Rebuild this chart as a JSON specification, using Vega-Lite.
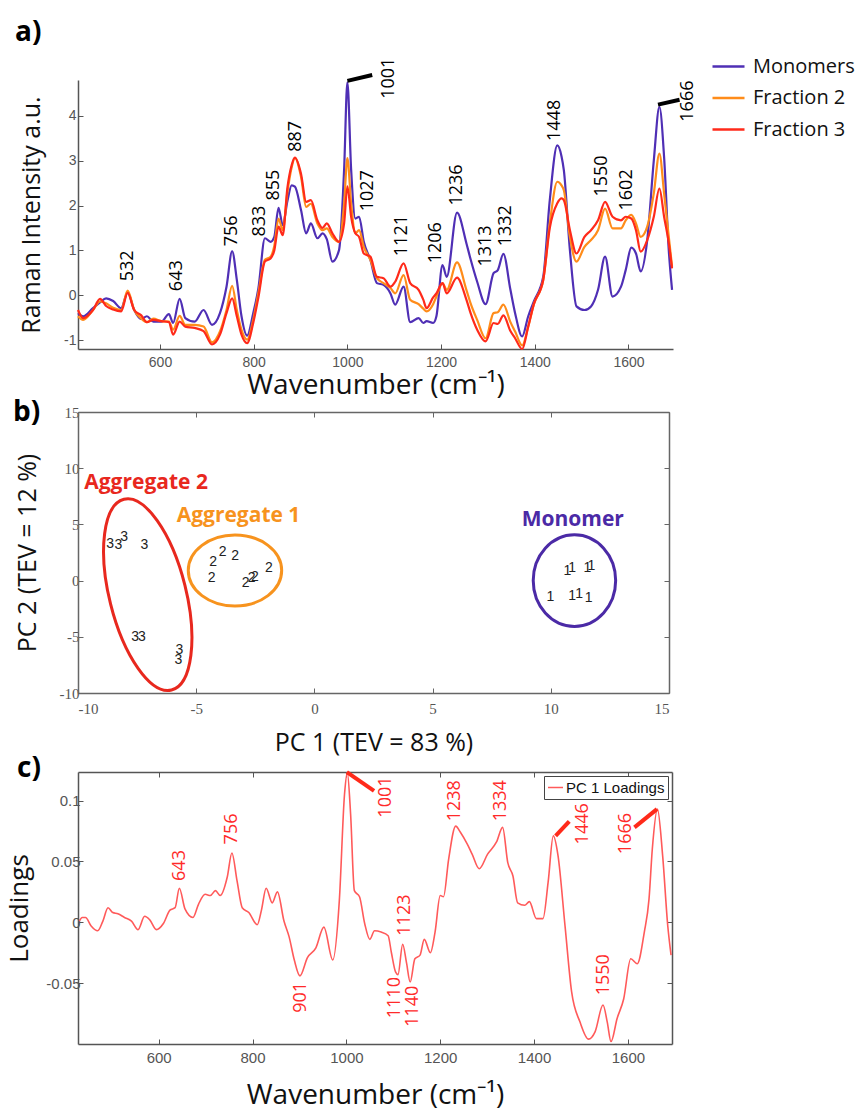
{
  "$schema": "https://vega.github.io/schema/vega-lite/v6.json",
  "background": "white",
  "padding": {"left": 6, "top": 19, "right": 0, "bottom": 0},
  "spacing": 0,
  "config": {
    "view": {"stroke": null},
    "axis": {"grid": false, "domainColor": "#555", "tickColor": "#555", "labelColor": "#555", "titleColor": "#111", "titleFontWeight": "normal", "titleFont": "Open Sans", "labelFont": "Liberation Sans"},
    "title": {"anchor": "start", "frame": "group", "fontSize": 28, "fontWeight": "bold", "font": "Open Sans", "color": "#000"}
  },
  "datasets": {
    "spectra": [
      {"w":425,"Monomers":-0.40,"Fraction 2":-0.47,"Fraction 3":-0.33},
      {"w":436,"Monomers":-0.47,"Fraction 2":-0.55,"Fraction 3":-0.51},
      {"w":457,"Monomers":-0.29,"Fraction 2":-0.33,"Fraction 3":-0.33},
      {"w":472,"Monomers":-0.16,"Fraction 2":-0.14,"Fraction 3":-0.08},
      {"w":485,"Monomers":-0.07,"Fraction 2":-0.18,"Fraction 3":-0.24},
      {"w":500,"Monomers":-0.13,"Fraction 2":-0.28,"Fraction 3":-0.32},
      {"w":517,"Monomers":-0.29,"Fraction 2":-0.33,"Fraction 3":-0.36},
      {"w":531,"Monomers":0.06,"Fraction 2":0.10,"Fraction 3":0.05},
      {"w":545,"Monomers":-0.33,"Fraction 2":-0.33,"Fraction 3":-0.33},
      {"w":560,"Monomers":-0.53,"Fraction 2":-0.52,"Fraction 3":-0.45},
      {"w":572,"Monomers":-0.47,"Fraction 2":-0.60,"Fraction 3":-0.60},
      {"w":586,"Monomers":-0.59,"Fraction 2":-0.52,"Fraction 3":-0.55},
      {"w":603,"Monomers":-0.59,"Fraction 2":-0.58,"Fraction 3":-0.58},
      {"w":619,"Monomers":-0.42,"Fraction 2":-0.59,"Fraction 3":-0.60},
      {"w":628,"Monomers":-0.62,"Fraction 2":-0.77,"Fraction 3":-0.88},
      {"w":642,"Monomers":-0.08,"Fraction 2":-0.46,"Fraction 3":-0.59},
      {"w":654,"Monomers":-0.51,"Fraction 2":-0.66,"Fraction 3":-0.70},
      {"w":674,"Monomers":-0.59,"Fraction 2":-0.66,"Fraction 3":-0.73},
      {"w":693,"Monomers":-0.33,"Fraction 2":-0.70,"Fraction 3":-0.80},
      {"w":711,"Monomers":-0.66,"Fraction 2":-1.05,"Fraction 3":-1.10},
      {"w":728,"Monomers":-0.40,"Fraction 2":-0.81,"Fraction 3":-0.88},
      {"w":742,"Monomers":0.19,"Fraction 2":-0.33,"Fraction 3":-0.40},
      {"w":754,"Monomers":0.98,"Fraction 2":0.21,"Fraction 3":-0.07},
      {"w":764,"Monomers":0.34,"Fraction 2":-0.33,"Fraction 3":-0.47},
      {"w":774,"Monomers":-0.47,"Fraction 2":-0.77,"Fraction 3":-0.88},
      {"w":786,"Monomers":-0.90,"Fraction 2":-0.99,"Fraction 3":-1.07},
      {"w":799,"Monomers":-0.40,"Fraction 2":-0.55,"Fraction 3":-0.62},
      {"w":810,"Monomers":0.15,"Fraction 2":0.05,"Fraction 3":-0.05},
      {"w":824,"Monomers":1.27,"Fraction 2":0.79,"Fraction 3":0.75},
      {"w":836,"Monomers":1.19,"Fraction 2":0.86,"Fraction 3":0.82},
      {"w":844,"Monomers":1.30,"Fraction 2":1.10,"Fraction 3":1.00},
      {"w":853,"Monomers":1.95,"Fraction 2":1.71,"Fraction 3":1.53},
      {"w":862,"Monomers":1.56,"Fraction 2":1.45,"Fraction 3":1.34},
      {"w":872,"Monomers":2.10,"Fraction 2":2.30,"Fraction 3":2.40},
      {"w":881,"Monomers":2.45,"Fraction 2":2.85,"Fraction 3":2.90},
      {"w":888,"Monomers":2.42,"Fraction 2":3.06,"Fraction 3":3.07},
      {"w":901,"Monomers":1.90,"Fraction 2":2.64,"Fraction 3":2.71},
      {"w":912,"Monomers":1.38,"Fraction 2":1.97,"Fraction 3":2.08},
      {"w":922,"Monomers":1.60,"Fraction 2":2.04,"Fraction 3":2.12},
      {"w":936,"Monomers":1.27,"Fraction 2":1.60,"Fraction 3":1.67},
      {"w":947,"Monomers":1.38,"Fraction 2":1.45,"Fraction 3":1.50},
      {"w":956,"Monomers":1.25,"Fraction 2":1.49,"Fraction 3":1.60},
      {"w":968,"Monomers":0.75,"Fraction 2":1.30,"Fraction 3":1.38},
      {"w":982,"Monomers":1.00,"Fraction 2":1.19,"Fraction 3":1.19},
      {"w":993,"Monomers":2.80,"Fraction 2":2.04,"Fraction 3":1.60},
      {"w":1000,"Monomers":4.75,"Fraction 2":3.06,"Fraction 3":2.43},
      {"w":1008,"Monomers":2.80,"Fraction 2":2.04,"Fraction 3":1.75},
      {"w":1017,"Monomers":1.71,"Fraction 2":1.38,"Fraction 3":1.38},
      {"w":1025,"Monomers":1.75,"Fraction 2":1.45,"Fraction 3":1.30},
      {"w":1035,"Monomers":1.19,"Fraction 2":1.08,"Fraction 3":0.93},
      {"w":1049,"Monomers":0.79,"Fraction 2":0.79,"Fraction 3":0.86},
      {"w":1063,"Monomers":0.27,"Fraction 2":0.38,"Fraction 3":0.41},
      {"w":1077,"Monomers":0.23,"Fraction 2":0.27,"Fraction 3":0.38},
      {"w":1092,"Monomers":0.04,"Fraction 2":0.16,"Fraction 3":0.19},
      {"w":1102,"Monomers":-0.21,"Fraction 2":0.04,"Fraction 3":0.30},
      {"w":1120,"Monomers":0.19,"Fraction 2":0.45,"Fraction 3":0.71},
      {"w":1134,"Monomers":-0.60,"Fraction 2":-0.10,"Fraction 3":0.27},
      {"w":1152,"Monomers":-0.51,"Fraction 2":-0.20,"Fraction 3":0.12},
      {"w":1162,"Monomers":-0.62,"Fraction 2":-0.30,"Fraction 3":-0.10},
      {"w":1169,"Monomers":-0.58,"Fraction 2":-0.36,"Fraction 3":-0.29},
      {"w":1183,"Monomers":-0.62,"Fraction 2":-0.20,"Fraction 3":-0.05},
      {"w":1190,"Monomers":-0.47,"Fraction 2":-0.03,"Fraction 3":0.04},
      {"w":1203,"Monomers":0.67,"Fraction 2":0.27,"Fraction 3":0.27},
      {"w":1212,"Monomers":0.41,"Fraction 2":0.12,"Fraction 3":0.04},
      {"w":1234,"Monomers":1.84,"Fraction 2":0.73,"Fraction 3":0.39},
      {"w":1254,"Monomers":1.16,"Fraction 2":0.12,"Fraction 3":-0.10},
      {"w":1263,"Monomers":0.80,"Fraction 2":-0.18,"Fraction 3":-0.40},
      {"w":1277,"Monomers":0.30,"Fraction 2":-0.55,"Fraction 3":-0.77},
      {"w":1295,"Monomers":-0.20,"Fraction 2":-0.96,"Fraction 3":-1.03},
      {"w":1312,"Monomers":0.49,"Fraction 2":-0.40,"Fraction 3":-0.62},
      {"w":1321,"Monomers":0.56,"Fraction 2":-0.38,"Fraction 3":-0.64},
      {"w":1333,"Monomers":0.92,"Fraction 2":-0.21,"Fraction 3":-0.45},
      {"w":1348,"Monomers":0.12,"Fraction 2":-0.60,"Fraction 3":-0.80},
      {"w":1358,"Monomers":-0.40,"Fraction 2":-0.81,"Fraction 3":-0.96},
      {"w":1373,"Monomers":-0.92,"Fraction 2":-1.12,"Fraction 3":-1.20},
      {"w":1386,"Monomers":-0.47,"Fraction 2":-0.70,"Fraction 3":-0.70},
      {"w":1398,"Monomers":-0.14,"Fraction 2":-0.20,"Fraction 3":-0.20},
      {"w":1418,"Monomers":0.41,"Fraction 2":0.34,"Fraction 3":0.34},
      {"w":1432,"Monomers":2.12,"Fraction 2":1.60,"Fraction 3":1.50},
      {"w":1448,"Monomers":3.34,"Fraction 2":2.53,"Fraction 3":2.05},
      {"w":1457,"Monomers":3.10,"Fraction 2":2.45,"Fraction 3":2.16},
      {"w":1462,"Monomers":2.79,"Fraction 2":2.34,"Fraction 3":2.12},
      {"w":1475,"Monomers":1.00,"Fraction 2":1.30,"Fraction 3":1.45},
      {"w":1489,"Monomers":-0.25,"Fraction 2":0.75,"Fraction 3":0.93},
      {"w":1506,"Monomers":-0.33,"Fraction 2":1.08,"Fraction 3":1.30},
      {"w":1520,"Monomers":-0.25,"Fraction 2":1.23,"Fraction 3":1.45},
      {"w":1535,"Monomers":0.12,"Fraction 2":1.45,"Fraction 3":1.67},
      {"w":1550,"Monomers":0.86,"Fraction 2":1.93,"Fraction 3":2.08},
      {"w":1566,"Monomers":-0.03,"Fraction 2":1.49,"Fraction 3":1.75},
      {"w":1584,"Monomers":0.19,"Fraction 2":1.49,"Fraction 3":1.67},
      {"w":1594,"Monomers":0.56,"Fraction 2":1.67,"Fraction 3":1.75},
      {"w":1606,"Monomers":1.06,"Fraction 2":1.79,"Fraction 3":1.71},
      {"w":1616,"Monomers":0.93,"Fraction 2":1.60,"Fraction 3":1.45},
      {"w":1626,"Monomers":0.53,"Fraction 2":1.30,"Fraction 3":0.97},
      {"w":1640,"Monomers":1.23,"Fraction 2":1.53,"Fraction 3":1.23},
      {"w":1654,"Monomers":3.00,"Fraction 2":2.27,"Fraction 3":1.75},
      {"w":1666,"Monomers":4.20,"Fraction 2":3.16,"Fraction 3":2.38},
      {"w":1676,"Monomers":3.08,"Fraction 2":2.27,"Fraction 3":1.75},
      {"w":1686,"Monomers":1.00,"Fraction 2":1.30,"Fraction 3":1.16},
      {"w":1693,"Monomers":0.12,"Fraction 2":0.64,"Fraction 3":0.60}
    ],
    "peaksA": [
      {"t":"532","w":531,"v":0.31},
      {"t":"643","w":637,"v":0.09},
      {"t":"756","w":753,"v":1.09},
      {"t":"833","w":813,"v":1.31},
      {"t":"855","w":844,"v":2.11},
      {"t":"887","w":891,"v":3.2},
      {"t":"1001","w":1088,"v":4.38},
      {"t":"1027","w":1043,"v":1.87},
      {"t":"1121","w":1117,"v":0.87},
      {"t":"1206","w":1189,"v":0.71},
      {"t":"1236","w":1233,"v":2.0},
      {"t":"1313","w":1295,"v":0.64},
      {"t":"1332","w":1339,"v":1.09},
      {"t":"1448","w":1443,"v":3.44},
      {"t":"1550","w":1543,"v":2.2},
      {"t":"1602","w":1596,"v":1.89},
      {"t":"1666","w":1727,"v":3.87}
    ],
    "leadersA": [
      {"w":1000,"v":4.78,"w2":1053,"v2":4.91},
      {"w":1663,"v":4.25,"w2":1709,"v2":4.36}
    ],
    "pca": [
      {"label":"3","x":-8.64,"y":3.23},{"label":"3","x":-8.29,"y":3.2},{"label":"3","x":-8.05,"y":3.9},{"label":"3","x":-7.19,"y":3.2},
      {"label":"3","x":-7.58,"y":-5.0},{"label":"3","x":-7.3,"y":-5.0},{"label":"3","x":-5.71,"y":-6.18},{"label":"3","x":-5.75,"y":-7.07},
      {"label":"2","x":-4.28,"y":1.69},{"label":"2","x":-3.88,"y":2.58},{"label":"2","x":-3.35,"y":2.22},{"label":"2","x":-4.35,"y":0.27},
      {"label":"2","x":-2.91,"y":-0.24},{"label":"2","x":-2.66,"y":0.2},{"label":"2","x":-2.52,"y":0.35},{"label":"2","x":-1.92,"y":1.1},
      {"label":"1","x":9.98,"y":-1.43},{"label":"1","x":10.7,"y":0.89},{"label":"1","x":10.9,"y":1.16},{"label":"1","x":11.55,"y":1.1},
      {"label":"1","x":11.72,"y":1.3},{"label":"1","x":10.9,"y":-1.34},{"label":"1","x":11.2,"y":-1.19},{"label":"1","x":11.6,"y":-1.58}
    ],
    "clusters": [
      {"group":"Aggregate 2","ex":-7.05,"ey":-1.25,"lx":-7.12,"ly":8.66},
      {"group":"Aggregate 1","ex":-3.36,"ey":0.9,"lx":-3.21,"ly":5.73},
      {"group":"Monomer","ex":11.0,"ey":0.0,"lx":10.93,"ly":5.37}
    ],
    "loadings": [
      {"w":431,"v":0.001},{"w":437,"v":0.004},{"w":444,"v":0.004},{"w":456,"v":-0.003},{"w":470,"v":-0.007},{"w":481,"v":0.001},
      {"w":492,"v":0.012},{"w":502,"v":0.008},{"w":513,"v":0.007},{"w":527,"v":0.004},{"w":542,"v":0.001},{"w":556,"v":-0.006},
      {"w":570,"v":0.005},{"w":581,"v":0.002},{"w":595,"v":-0.006},{"w":610,"v":-0.001},{"w":624,"v":0.010},{"w":635,"v":0.012},
      {"w":644,"v":0.028},{"w":656,"v":0.011},{"w":673,"v":0.004},{"w":685,"v":0.015},{"w":699,"v":0.023},{"w":710,"v":0.022},
      {"w":721,"v":0.026},{"w":731,"v":0.022},{"w":746,"v":0.037},{"w":756,"v":0.057},{"w":767,"v":0.034},{"w":778,"v":0.012},
      {"w":792,"v":0.008},{"w":810,"v":-0.002},{"w":819,"v":0.010},{"w":829,"v":0.028},{"w":842,"v":0.016},{"w":853,"v":0.025},
      {"w":867,"v":0.001},{"w":878,"v":-0.012},{"w":889,"v":-0.031},{"w":901,"v":-0.044},{"w":917,"v":-0.029},{"w":935,"v":-0.021},
      {"w":952,"v":-0.004},{"w":971,"v":-0.031},{"w":985,"v":0.018},{"w":996,"v":0.105},{"w":1002,"v":0.123},{"w":1009,"v":0.089},
      {"w":1017,"v":0.026},{"w":1028,"v":0.021},{"w":1039,"v":-0.001},{"w":1050,"v":-0.014},{"w":1060,"v":-0.007},{"w":1074,"v":-0.008},
      {"w":1089,"v":-0.011},{"w":1096,"v":-0.025},{"w":1105,"v":-0.041},{"w":1110,"v":-0.043},{"w":1120,"v":-0.018},{"w":1128,"v":-0.033},
      {"w":1136,"v":-0.049},{"w":1146,"v":-0.030},{"w":1157,"v":-0.027},{"w":1166,"v":-0.014},{"w":1179,"v":-0.025},{"w":1189,"v":-0.008},
      {"w":1200,"v":0.022},{"w":1207,"v":0.021},{"w":1218,"v":0.052},{"w":1233,"v":0.079},{"w":1243,"v":0.074},{"w":1258,"v":0.064},
      {"w":1268,"v":0.056},{"w":1283,"v":0.044},{"w":1301,"v":0.056},{"w":1320,"v":0.066},{"w":1333,"v":0.078},{"w":1344,"v":0.049},
      {"w":1355,"v":0.038},{"w":1365,"v":0.016},{"w":1380,"v":0.014},{"w":1390,"v":0.017},{"w":1405,"v":0.003},{"w":1419,"v":0.003},
      {"w":1430,"v":0.033},{"w":1441,"v":0.071},{"w":1451,"v":0.055},{"w":1466,"v":-0.003},{"w":1480,"v":-0.057},{"w":1498,"v":-0.082},
      {"w":1516,"v":-0.096},{"w":1530,"v":-0.090},{"w":1547,"v":-0.068},{"w":1556,"v":-0.082},{"w":1564,"v":-0.098},{"w":1577,"v":-0.079},
      {"w":1591,"v":-0.063},{"w":1606,"v":-0.030},{"w":1620,"v":-0.034},{"w":1635,"v":-0.008},{"w":1645,"v":0.019},{"w":1652,"v":0.060},
      {"w":1663,"v":0.093},{"w":1674,"v":0.055},{"w":1685,"v":-0.003},{"w":1692,"v":-0.027}
    ],
    "peaksC": [
      {"t":"643","w":645,"v":0.034,"side":"above"},
      {"t":"756","w":756,"v":0.064,"side":"above"},
      {"t":"1001","w":1085,"v":0.086,"side":"above"},
      {"t":"1123","w":1125,"v":-0.011,"side":"above"},
      {"t":"1238","w":1232,"v":0.083,"side":"above"},
      {"t":"1334","w":1329,"v":0.083,"side":"above"},
      {"t":"1446","w":1505,"v":0.064,"side":"above"},
      {"t":"1550","w":1550,"v":-0.06,"side":"above"},
      {"t":"1666","w":1595,"v":0.056,"side":"above"},
      {"t":"901","w":903,"v":-0.049,"side":"below"},
      {"t":"1110","w":1103,"v":-0.045,"side":"below"},
      {"t":"1140","w":1142,"v":-0.052,"side":"below"}
    ],
    "leadersC": [
      {"w":1001,"v":0.1234,"w2":1059,"v2":0.108},
      {"w":1446,"v":0.071,"w2":1475,"v2":0.083},
      {"w":1614,"v":0.078,"w2":1662,"v2":0.093}
    ]
  },
  "vconcat": [
    {
      "width": 595,
      "height": 269,
      "title": {"text": "a)", "dx": -63, "offset": 2},
      "layer": [
        {
          "data": {"name": "spectra"},
          "transform": [{"fold": ["Monomers", "Fraction 2", "Fraction 3"], "as": ["series", "value"]}],
          "mark": {"type": "line", "interpolate": "monotone", "strokeWidth": 2.2},
          "encoding": {
            "x": {"field": "w", "type": "quantitative", "scale": {"domain": [425, 1695], "nice": false, "zero": false},
              "axis": {"orient": "bottom", "values": [600, 800, 1000, 1200, 1400, 1600], "format": "d", "title": "Wavenumber (cm⁻¹)", "titleFontSize": 28, "titlePadding": 2, "labelFontSize": 14, "tickSize": -5, "labelPadding": 11, "domainWidth": 1.5}},
            "y": {"field": "value", "type": "quantitative", "scale": {"domain": [-1.2, 4.8], "nice": false, "zero": false},
              "axis": {"orient": "left", "values": [-1, 0, 1, 2, 3, 4], "labelExpr": "replace(format(datum.value, '~g'), '−', '-')", "title": "Raman Intensity a.u.", "titleFontSize": 25, "titlePadding": 19, "labelFontSize": 14, "tickSize": -5, "labelPadding": 7, "domainWidth": 1.5}},
            "color": {"field": "series", "type": "nominal", "sort": ["Monomers", "Fraction 2", "Fraction 3"],
              "scale": {"domain": ["Monomers", "Fraction 2", "Fraction 3"], "range": ["#4f2fb5", "#ff8c1a", "#ff2a1a"]},
              "legend": {"orient": "none", "legendX": 633, "legendY": -31, "title": null, "symbolType": "stroke", "symbolSize": 1024, "symbolStrokeWidth": 2.5, "labelFontSize": 20, "labelFont": "Open Sans", "labelColor": "#111", "rowPadding": 3.5, "labelOffset": 7, "padding": 0}}
          }
        },
        {
          "data": {"name": "peaksA"},
          "mark": {"type": "text", "angle": 270, "align": "left", "baseline": "middle", "fontSize": 18, "font": "Open Sans", "color": "#000"},
          "encoding": {
            "x": {"field": "w", "type": "quantitative", "scale": {"domain": [425, 1695], "nice": false, "zero": false}, "axis": null},
            "y": {"field": "v", "type": "quantitative", "scale": {"domain": [-1.2, 4.8], "nice": false, "zero": false}, "axis": null},
            "text": {"field": "t", "type": "nominal"}
          }
        },
        {
          "data": {"name": "leadersA"},
          "mark": {"type": "rule", "strokeWidth": 4, "color": "#000"},
          "encoding": {
            "x": {"field": "w", "type": "quantitative", "scale": {"domain": [425, 1695], "nice": false, "zero": false},
              "axis": {"orient": "top", "domain": false, "ticks": false, "labels": false, "title": null}},
            "y": {"field": "v", "type": "quantitative", "scale": {"domain": [-1.2, 4.8], "nice": false, "zero": false},
              "axis": {"orient": "right", "domain": false, "ticks": false, "labels": false, "title": null}},
            "x2": {"field": "w2"},
            "y2": {"field": "v2"}
          }
        }
      ]
    },
    {
      "width": 591,
      "height": 281,
      "title": {"text": "b)", "dx": -65, "offset": 0, "dy": 22},
      "layer": [
        {
          "data": {"name": "pca"},
          "mark": {"type": "text", "fontSize": 14, "font": "Liberation Sans", "color": "#222", "align": "center", "baseline": "middle"},
          "encoding": {
            "x": {"field": "x", "type": "quantitative", "scale": {"domain": [-10, 15], "nice": false, "zero": false},
              "axis": {"orient": "bottom", "values": [-10, -5, 0, 5, 10, 15], "labelExpr": "replace(format(datum.value, '~g'), '−', '-')", "title": "PC 1 (TEV = 83 %)", "titleFontSize": 25, "titlePadding": 14, "labelFont": "Liberation Serif", "labelFontSize": 15, "tickSize": -5, "labelPadding": 13, "domainColor": "#666", "tickColor": "#666", "domainWidth": 1.5}},
            "y": {"field": "y", "type": "quantitative", "scale": {"domain": [-10, 15], "nice": false, "zero": false},
              "axis": {"orient": "left", "values": [-10, -5, 0, 5, 10, 15], "labelExpr": "replace(format(datum.value, '~g'), '−', '-')", "title": "PC 2 (TEV = 12 %)", "titleFontSize": 25, "titlePadding": 19, "labelFont": "Liberation Serif", "labelFontSize": 15, "tickSize": -5, "labelPadding": 4, "domainColor": "#666", "tickColor": "#666", "domainWidth": 1.5}},
            "text": {"field": "label", "type": "nominal"}
          }
        },
        {
          "data": {"name": "clusters"},
          "transform": [{"filter": "datum.group === 'Aggregate 2'"}],
          "mark": {"type": "point", "filled": false, "opacity": 1, "strokeWidth": 3, "color": "#e8281e", "size": 38650, "angle": 346,
            "shape": "M0,-1 C0.2154,-1 0.39,-0.5523 0.39,0 C0.39,0.5523 0.2154,1 0,1 C-0.2154,1 -0.39,0.5523 -0.39,0 C-0.39,-0.5523 -0.2154,-1 0,-1 Z"},
          "encoding": {
            "x": {"field": "ex", "type": "quantitative", "scale": {"domain": [-10, 15], "nice": false, "zero": false},
              "axis": {"orient": "top", "values": [-10, -5, 0, 5, 10, 15], "labels": false, "title": null, "tickSize": -5, "domainColor": "#666", "tickColor": "#666", "domainWidth": 1.5}},
            "y": {"field": "ey", "type": "quantitative", "scale": {"domain": [-10, 15], "nice": false, "zero": false},
              "axis": {"orient": "right", "values": [-10, -5, 0, 5, 10, 15], "labels": false, "title": null, "tickSize": -5, "domainColor": "#666", "tickColor": "#666", "domainWidth": 1.5}}
          }
        },
        {
          "data": {"name": "clusters"},
          "transform": [{"filter": "datum.group === 'Aggregate 1'"}],
          "mark": {"type": "point", "filled": false, "opacity": 1, "strokeWidth": 3, "color": "#f7931e", "size": 8724,
            "shape": "M0,-0.76 C0.5523,-0.76 1,-0.4197 1,0 C1,0.4197 0.5523,0.76 0,0.76 C-0.5523,0.76 -1,0.4197 -1,0 C-1,-0.4197 -0.5523,-0.76 0,-0.76 Z"},
          "encoding": {
            "x": {"field": "ex", "type": "quantitative", "scale": {"domain": [-10, 15], "nice": false, "zero": false}, "axis": null},
            "y": {"field": "ey", "type": "quantitative", "scale": {"domain": [-10, 15], "nice": false, "zero": false}, "axis": null}
          }
        },
        {
          "data": {"name": "clusters"},
          "transform": [{"filter": "datum.group === 'Monomer'"}],
          "mark": {"type": "point", "filled": false, "opacity": 1, "strokeWidth": 3, "color": "#4b2aa6", "size": 8390,
            "shape": "M0,-1 C0.497,-1 0.9,-0.5523 0.9,0 C0.9,0.5523 0.497,1 0,1 C-0.497,1 -0.9,0.5523 -0.9,0 C-0.9,-0.5523 -0.497,-1 0,-1 Z"},
          "encoding": {
            "x": {"field": "ex", "type": "quantitative", "scale": {"domain": [-10, 15], "nice": false, "zero": false}, "axis": null},
            "y": {"field": "ey", "type": "quantitative", "scale": {"domain": [-10, 15], "nice": false, "zero": false}, "axis": null}
          }
        },
        {
          "data": {"name": "clusters"},
          "mark": {"type": "text", "fontSize": 21, "font": "Open Sans", "fontWeight": "bold", "align": "center", "baseline": "middle"},
          "encoding": {
            "x": {"field": "lx", "type": "quantitative", "scale": {"domain": [-10, 15], "nice": false, "zero": false}, "axis": null},
            "y": {"field": "ly", "type": "quantitative", "scale": {"domain": [-10, 15], "nice": false, "zero": false}, "axis": null},
            "text": {"field": "group", "type": "nominal"},
            "color": {"field": "group", "type": "nominal", "scale": {"domain": ["Aggregate 2", "Aggregate 1", "Monomer"], "range": ["#e8281e", "#f7931e", "#4b2aa6"]}, "legend": null}
          }
        }
      ]
    },
    {
      "width": 594,
      "height": 272,
      "title": {"text": "c)", "dx": -61, "offset": 0, "dy": 14},
      "layer": [
        {
          "data": {"name": "loadings"},
          "mark": {"type": "line", "interpolate": "monotone", "strokeWidth": 1.6},
          "encoding": {
            "x": {"field": "w", "type": "quantitative", "scale": {"domain": [428, 1694], "nice": false, "zero": false},
              "axis": {"orient": "bottom", "values": [600, 800, 1000, 1200, 1400, 1600], "format": "d", "title": "Wavenumber (cm⁻¹)", "titleFontSize": 28, "titlePadding": 16, "labelFontSize": 15, "tickSize": -5, "labelPadding": 11, "domainWidth": 1.5}},
            "y": {"field": "v", "type": "quantitative", "scale": {"domain": [-0.1, 0.1235], "nice": false, "zero": false},
              "axis": {"orient": "left", "values": [-0.05, 0, 0.05, 0.1], "labelExpr": "replace(format(datum.value, '~g'), '−', '-')", "title": "Loadings", "titleFontSize": 26, "titlePadding": 13, "labelFontSize": 15, "tickSize": -5, "labelPadding": 3, "domainWidth": 1.5}},
            "color": {"datum": "PC 1 Loadings", "type": "nominal", "scale": {"range": ["#ff5a5a"]},
              "legend": {"orient": "top-right", "offset": 4, "title": null, "symbolType": "stroke", "symbolSize": 225, "symbolStrokeWidth": 1.5, "labelFontSize": 15, "labelFont": "Liberation Sans", "labelColor": "#111", "strokeColor": "#444", "fillColor": "white", "padding": 3, "labelOffset": 2}}
          }
        },
        {
          "data": {"name": "peaksC"},
          "transform": [{"filter": "datum.side === 'above'"}],
          "mark": {"type": "text", "angle": 270, "align": "left", "baseline": "middle", "fontSize": 18, "font": "Open Sans", "color": "#ff2a2a"},
          "encoding": {
            "x": {"field": "w", "type": "quantitative", "scale": {"domain": [428, 1694], "nice": false, "zero": false},
              "axis": {"orient": "top", "values": [600, 800, 1000, 1200, 1400, 1600], "labels": false, "title": null, "tickSize": -5, "domainWidth": 1.5}},
            "y": {"field": "v", "type": "quantitative", "scale": {"domain": [-0.1, 0.1235], "nice": false, "zero": false},
              "axis": {"orient": "right", "values": [-0.05, 0, 0.05, 0.1], "labels": false, "title": null, "tickSize": -5, "domainWidth": 1.5}},
            "text": {"field": "t", "type": "nominal"}
          }
        },
        {
          "data": {"name": "peaksC"},
          "transform": [{"filter": "datum.side === 'below'"}],
          "mark": {"type": "text", "angle": 270, "align": "right", "baseline": "middle", "fontSize": 18, "font": "Open Sans", "color": "#ff2a2a"},
          "encoding": {
            "x": {"field": "w", "type": "quantitative", "scale": {"domain": [428, 1694], "nice": false, "zero": false}, "axis": null},
            "y": {"field": "v", "type": "quantitative", "scale": {"domain": [-0.1, 0.1235], "nice": false, "zero": false}, "axis": null},
            "text": {"field": "t", "type": "nominal"}
          }
        },
        {
          "data": {"name": "leadersC"},
          "mark": {"type": "rule", "strokeWidth": 4, "color": "#ff2a1a"},
          "encoding": {
            "x": {"field": "w", "type": "quantitative", "scale": {"domain": [428, 1694], "nice": false, "zero": false}, "axis": null},
            "y": {"field": "v", "type": "quantitative", "scale": {"domain": [-0.1, 0.1235], "nice": false, "zero": false}, "axis": null},
            "x2": {"field": "w2"},
            "y2": {"field": "v2"}
          }
        }
      ]
    }
  ],
  "resolve": {"scale": {"x": "independent", "y": "independent", "color": "independent"}, "legend": {"color": "independent"}}
}
